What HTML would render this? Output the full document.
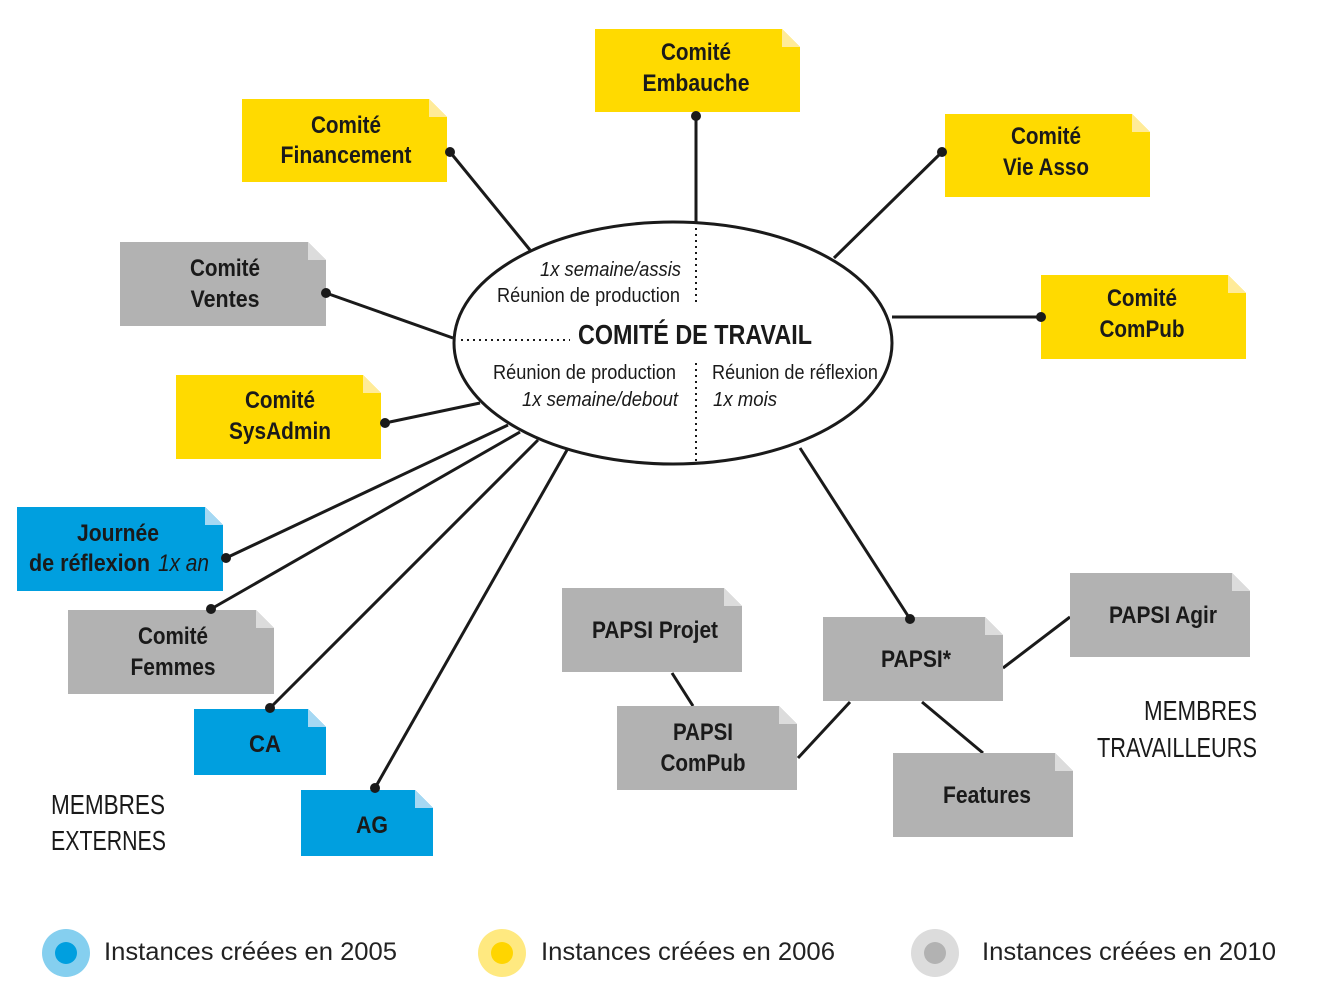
<!DOCTYPE html>
<html><head><meta charset="utf-8"><style>
html,body{margin:0;padding:0;background:#fff;}
svg{display:block;}
text{font-family:"Liberation Sans",sans-serif;fill:#1a1a1a;}
.b{font-weight:bold;font-size:24px;text-anchor:middle;}
.n{font-size:20px;}
.m{font-size:28px;}
.l{font-size:25px;fill:#222;}
</style></head><body>
<svg width="1330" height="1000" viewBox="0 0 1330 1000" xmlns="http://www.w3.org/2000/svg">
<g stroke="#1a1a1a" stroke-width="3" fill="none">
<line x1="696" y1="116" x2="696" y2="222"/>
<line x1="450" y1="152" x2="530" y2="250"/>
<line x1="942" y1="152" x2="834" y2="258"/>
<line x1="326" y1="293" x2="453" y2="338"/>
<line x1="1041" y1="317" x2="892" y2="317"/>
<line x1="385" y1="423" x2="480" y2="403"/>
<line x1="226" y1="558" x2="508" y2="425"/>
<line x1="211" y1="609" x2="520" y2="432"/>
<line x1="270" y1="708" x2="538" y2="440"/>
<line x1="375" y1="788" x2="567" y2="450"/>
<line x1="910" y1="619" x2="800" y2="448"/>
<line x1="672" y1="673" x2="693" y2="706"/>
<line x1="798" y1="758" x2="850" y2="702"/>
<line x1="922" y1="702" x2="983" y2="753"/>
<line x1="1003" y1="668" x2="1070" y2="617"/>
<ellipse cx="673" cy="343" rx="219" ry="121" fill="#fff"/>
</g>
<g stroke="#1a1a1a" stroke-width="2" stroke-dasharray="2 4" fill="none">
<line x1="696" y1="228" x2="696" y2="304"/>
<line x1="696" y1="363" x2="696" y2="462"/>
<line x1="461" y1="340" x2="570" y2="340"/>
</g>
<text class="n" x="540" y="276" font-style="italic" textLength="141" lengthAdjust="spacingAndGlyphs">1x semaine/assis</text>
<text class="n" x="497" y="302" textLength="183" lengthAdjust="spacingAndGlyphs">Réunion de production</text>
<text x="578" y="344" style="font-weight:bold;font-size:28px" textLength="234" lengthAdjust="spacingAndGlyphs">COMITÉ DE TRAVAIL</text>
<text class="n" x="493" y="379" textLength="183" lengthAdjust="spacingAndGlyphs">Réunion de production</text>
<text class="n" x="522" y="406" font-style="italic" textLength="156" lengthAdjust="spacingAndGlyphs">1x semaine/debout</text>
<text class="n" x="712" y="379" textLength="166" lengthAdjust="spacingAndGlyphs">Réunion de réflexion</text>
<text class="n" x="713" y="406" font-style="italic" textLength="64" lengthAdjust="spacingAndGlyphs">1x mois</text>

<g>
<path d="M595 29H782L800 47V112H595Z" fill="#FFDA00"/><path d="M782 29L800 47H782Z" fill="#FFEB99"/>
<path d="M242 99H429L447 117V182H242Z" fill="#FFDA00"/><path d="M429 99L447 117H429Z" fill="#FFEB99"/>
<path d="M945 114H1132L1150 132V197H945Z" fill="#FFDA00"/><path d="M1132 114L1150 132H1132Z" fill="#FFEB99"/>
<path d="M1041 275H1228L1246 293V359H1041Z" fill="#FFDA00"/><path d="M1228 275L1246 293H1228Z" fill="#FFEB99"/>
<path d="M176 375H363L381 393V459H176Z" fill="#FFDA00"/><path d="M363 375L381 393H363Z" fill="#FFEB99"/>
<path d="M120 242H308L326 260V326H120Z" fill="#B2B2B2"/><path d="M308 242L326 260H308Z" fill="#DCDCDC"/>
<path d="M17 507H205L223 525V591H17Z" fill="#009FDF"/><path d="M205 507L223 525H205Z" fill="#A5D8F3"/>
<path d="M68 610H256L274 628V694H68Z" fill="#B2B2B2"/><path d="M256 610L274 628H256Z" fill="#DCDCDC"/>
<path d="M194 709H308L326 727V775H194Z" fill="#009FDF"/><path d="M308 709L326 727H308Z" fill="#A5D8F3"/>
<path d="M301 790H415L433 808V856H301Z" fill="#009FDF"/><path d="M415 790L433 808H415Z" fill="#A5D8F3"/>
<path d="M562 588H724L742 606V672H562Z" fill="#B2B2B2"/><path d="M724 588L742 606H724Z" fill="#DCDCDC"/>
<path d="M617 706H779L797 724V790H617Z" fill="#B2B2B2"/><path d="M779 706L797 724H779Z" fill="#DCDCDC"/>
<path d="M823 617H985L1003 635V701H823Z" fill="#B2B2B2"/><path d="M985 617L1003 635H985Z" fill="#DCDCDC"/>
<path d="M1070 573H1232L1250 591V657H1070Z" fill="#B2B2B2"/><path d="M1232 573L1250 591H1232Z" fill="#DCDCDC"/>
<path d="M893 753H1055L1073 771V837H893Z" fill="#B2B2B2"/><path d="M1055 753L1073 771H1055Z" fill="#DCDCDC"/>
</g>
<g fill="#1a1a1a">
<circle cx="696" cy="116" r="5"/><circle cx="450" cy="152" r="5"/><circle cx="942" cy="152" r="5"/>
<circle cx="326" cy="293" r="5"/><circle cx="1041" cy="317" r="5"/><circle cx="385" cy="423" r="5"/>
<circle cx="226" cy="558" r="5"/><circle cx="211" cy="609" r="5"/><circle cx="270" cy="708" r="5"/>
<circle cx="375" cy="788" r="5"/><circle cx="910" cy="619" r="5"/>
</g>
<g lengthAdjust="spacingAndGlyphs">
<text class="b" x="696" y="60" textLength="70" lengthAdjust="spacingAndGlyphs">Comité</text><text class="b" x="696" y="91" textLength="107" lengthAdjust="spacingAndGlyphs">Embauche</text>
<text class="b" x="346" y="133" textLength="70" lengthAdjust="spacingAndGlyphs">Comité</text><text class="b" x="346" y="163" textLength="131" lengthAdjust="spacingAndGlyphs">Financement</text>
<text class="b" x="1046" y="144" textLength="70" lengthAdjust="spacingAndGlyphs">Comité</text><text class="b" x="1046" y="175" textLength="86" lengthAdjust="spacingAndGlyphs">Vie Asso</text>
<text class="b" x="1142" y="306" textLength="70" lengthAdjust="spacingAndGlyphs">Comité</text><text class="b" x="1142" y="337" textLength="85" lengthAdjust="spacingAndGlyphs">ComPub</text>
<text class="b" x="280" y="408" textLength="70" lengthAdjust="spacingAndGlyphs">Comité</text><text class="b" x="280" y="439" textLength="102" lengthAdjust="spacingAndGlyphs">SysAdmin</text>
<text class="b" x="225" y="276" textLength="70" lengthAdjust="spacingAndGlyphs">Comité</text><text class="b" x="225" y="307" textLength="69" lengthAdjust="spacingAndGlyphs">Ventes</text>
<text class="b" x="118" y="541" textLength="82" lengthAdjust="spacingAndGlyphs">Journée</text>
<text x="29" y="571" style="font-weight:bold;font-size:24px" textLength="121" lengthAdjust="spacingAndGlyphs">de réflexion</text>
<text x="158" y="571" style="font-style:italic;font-size:24px" textLength="51" lengthAdjust="spacingAndGlyphs">1x an</text>
<text class="b" x="173" y="644" textLength="70" lengthAdjust="spacingAndGlyphs">Comité</text><text class="b" x="173" y="675" textLength="85" lengthAdjust="spacingAndGlyphs">Femmes</text>
<text class="b" x="265" y="752" textLength="32" lengthAdjust="spacingAndGlyphs">CA</text>
<text class="b" x="372" y="833" textLength="32" lengthAdjust="spacingAndGlyphs">AG</text>
<text class="b" x="655" y="638" textLength="126" lengthAdjust="spacingAndGlyphs">PAPSI Projet</text>
<text class="b" x="703" y="740" textLength="60" lengthAdjust="spacingAndGlyphs">PAPSI</text><text class="b" x="703" y="771" textLength="85" lengthAdjust="spacingAndGlyphs">ComPub</text>
<text class="b" x="916" y="667" textLength="70" lengthAdjust="spacingAndGlyphs">PAPSI*</text>
<text class="b" x="1163" y="623" textLength="108" lengthAdjust="spacingAndGlyphs">PAPSI Agir</text>
<text class="b" x="987" y="803" textLength="88" lengthAdjust="spacingAndGlyphs">Features</text>
</g>
<text class="m" x="51" y="814" textLength="114" lengthAdjust="spacingAndGlyphs">MEMBRES</text><text class="m" x="51" y="850" textLength="115" lengthAdjust="spacingAndGlyphs">EXTERNES</text>
<text class="m" x="1144" y="720" textLength="113" lengthAdjust="spacingAndGlyphs">MEMBRES</text><text class="m" x="1097" y="757" textLength="160" lengthAdjust="spacingAndGlyphs">TRAVAILLEURS</text>

<circle cx="66" cy="953" r="24" fill="#85CFEF"/><circle cx="66" cy="953" r="11" fill="#009FDF"/>
<text class="l" x="104" y="960" textLength="293" lengthAdjust="spacingAndGlyphs">Instances créées en 2005</text>
<circle cx="502" cy="953" r="24" fill="#FFE980"/><circle cx="502" cy="953" r="11" fill="#FFD500"/>
<text class="l" x="541" y="960" textLength="294" lengthAdjust="spacingAndGlyphs">Instances créées en 2006</text>
<circle cx="935" cy="953" r="24" fill="#DCDCDC"/><circle cx="935" cy="953" r="11" fill="#B2B2B2"/>
<text class="l" x="982" y="960" textLength="294" lengthAdjust="spacingAndGlyphs">Instances créées en 2010</text>
</svg>
</body></html>
